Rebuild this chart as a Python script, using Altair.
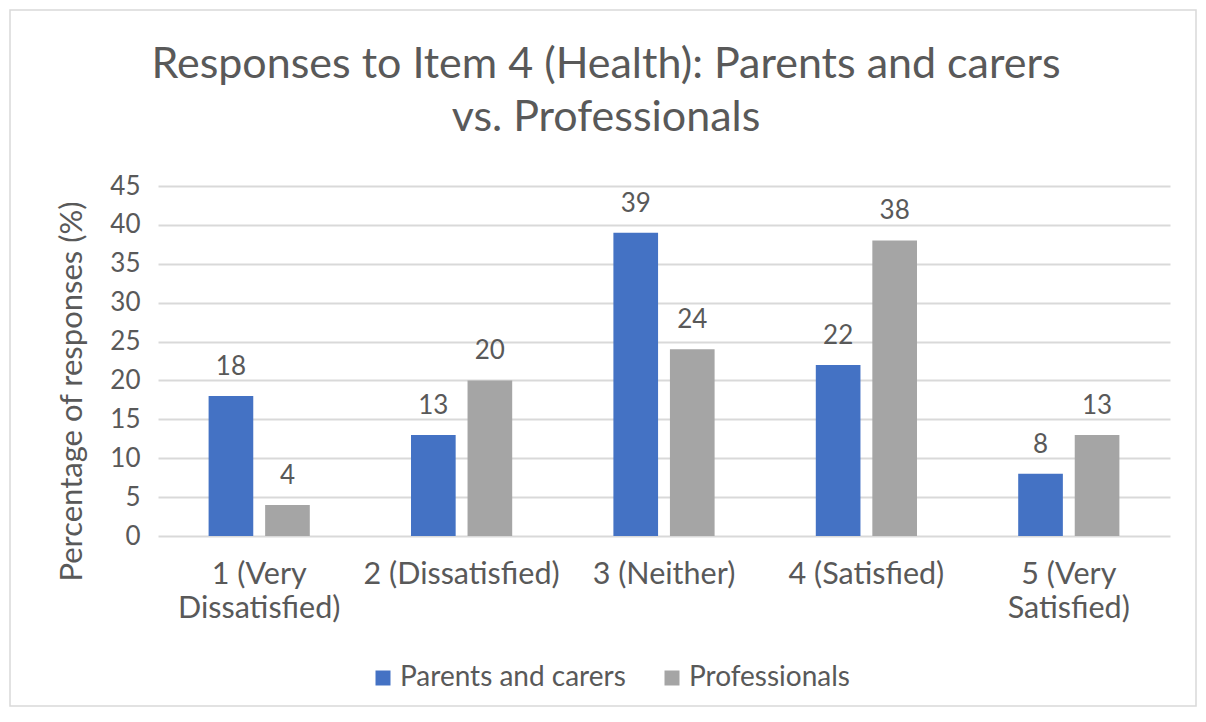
import altair as alt
import pandas as pd

categories = ["1 (Very\nDissatisfied)", "2 (Dissatisfied)", "3 (Neither)", "4 (Satisfied)", "5 (Very\nSatisfied)"]
series = ["Parents and carers", "Professionals"]
parents = [18, 13, 39, 22, 8]
professionals = [4, 20, 24, 38, 13]
y_ticks = [0, 5, 10, 15, 20, 25, 30, 35, 40, 45]

rows = []
for c, p, q in zip(categories, parents, professionals):
    rows.append({"category": c, "series": series[0], "value": p})
    rows.append({"category": c, "series": series[1], "value": q})
df = pd.DataFrame(rows)

FONT = "Lato"
TXT = "#595959"
W, H = 1012, 350

x = alt.X("category:N", sort=categories, title=None,
          scale=alt.Scale(paddingInner=0.5, paddingOuter=0.25),
          axis=alt.Axis(labelExpr="split(datum.label, '\\n')", labelAngle=0,
                        labelFontSize=30.5, labelColor=TXT, labelFont=FONT,
                        labelPadding=23, labelLineHeight=34, domain=False, ticks=False,
                        labelBaseline="top", labelLimit=0))
xo = alt.XOffset("series:N", sort=series, scale=alt.Scale(paddingInner=0.21))
y = alt.Y("value:Q", scale=alt.Scale(domain=[0, 45], nice=False),
          axis=alt.Axis(values=y_ticks, tickCount=10, labelOverlap=False,
                        title="Percentage of responses (%)",
                        titleFontSize=31, titleColor=TXT, titleFont=FONT, titleFontWeight="normal",
                        titleX=-86, titleY=205, titleAngle=-90, titleAlign="center", titleBaseline="middle",
                        labelFontSize=26, labelColor=TXT, labelFont=FONT, labelPadding=18,
                        domain=False, ticks=False, gridColor="#D9D9D9", gridWidth=2))

color = alt.Color("series:N", sort=series,
                  scale=alt.Scale(domain=series, range=["#4472C4", "#A5A5A5"]),
                  legend=alt.Legend(title=None, orient="none", direction="horizontal",
                                    legendX=211, legendY=478, symbolType="square", symbolSize=225,
                                    symbolStrokeWidth=0, labelFontSize=28, labelColor=TXT, labelFont=FONT,
                                    columnPadding=32, labelOffset=3, labelLimit=0))

bars = alt.Chart(df).mark_bar().encode(x=x, xOffset=xo, y=y, color=color)
labels = alt.Chart(df).mark_text(font=FONT, fontSize=26, color=TXT, baseline="middle", dy=-29).encode(
    x=alt.X("category:N", sort=categories), xOffset=xo, y="value:Q", text="value:Q")

border = alt.Chart(pd.DataFrame({"k": [0]})).mark_rect(
    fill=None, stroke="#D9D9D9", strokeWidth=1.5, clip=False).encode(
    x=alt.value(-148), x2=alt.value(W + 26), y=alt.value(-176), y2=alt.value(H + 170))

chart = alt.layer(bars, labels, border).properties(
    width=W, height=H,
    title=alt.TitleParams(["Responses to Item 4 (Health): Parents and carers", "vs. Professionals"],
                          fontSize=43, font=FONT, color=TXT, fontWeight="normal",
                          anchor="middle", lineHeight=53, offset=52, dx=-58, dy=183),
    autosize=alt.AutoSizeParams(type="none"),
    padding={"left": 150, "top": 178, "right": 28, "bottom": 172},
).configure_view(stroke=None).configure_axisX(grid=False)

chart.save("out.html", embed_options={"renderer": "svg", "actions": False})
